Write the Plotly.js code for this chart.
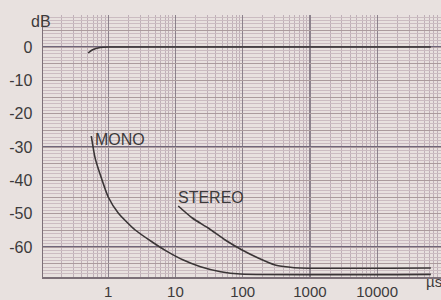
<!DOCTYPE html>
<html><head><meta charset="utf-8">
<script src="https://cdn.plot.ly/plotly-3.0.1.min.js"></script>
<style>html,body{margin:0;padding:0;background:#e8e1df;}#c{width:441px;height:300px;}</style>
</head><body><div id="c"></div>
<script>
// Data (x in µs, y in dB)
const monoX = [0.56, 0.64, 0.81, 1.0, 1.41, 2.52, 4.51, 7.05, 13.1, 23.6, 47, 93, 63000];
const monoY = [-26.7, -33.4, -39.9, -45, -49.8, -54.9, -58.5, -61, -63.9, -65.9, -67.4, -68.1, -68.2];
const stereoX = [11, 17.8, 30.7, 55, 98, 170, 304, 475, 716, 63000];
const stereoY = [-47.7, -51.3, -54.3, -57.9, -60.9, -63.3, -65.4, -66, -66.3, -66.3];
const refX = [0.503, 0.577, 0.76, 1.07, 63000];
const refY = [-1.8, -0.9, -0.15, 0, 0];
const xTickVals = [1, 10, 100, 1000, 10000];
const xTickText = ['1', '10', '100', '1000', '10000'];
const yTickVals = [0, -10, -20, -30, -40, -50, -60];
const yTickText = ['0', '-10', '-20', '-30', '-40', '-50', '-60'];

const lineStyle = {color: '#3a3536', width: 1.6, shape: 'spline', smoothing: 0.6};
const traces = [
  {x: refX, y: refY, mode: 'lines', line: lineStyle, hoverinfo: 'skip'},
  {x: monoX, y: monoY, mode: 'lines', line: lineStyle, hoverinfo: 'skip'},
  {x: stereoX, y: stereoY, mode: 'lines', line: lineStyle, hoverinfo: 'skip'},
  {x: [1], y: [0], yaxis: 'y2', mode: 'none', hoverinfo: 'skip'}
];
const font = {family: 'Liberation Sans, Arial, sans-serif', size: 16, color: '#3c3a3b'};
const xfont = {family: 'Liberation Sans, Arial, sans-serif', size: 15, color: '#3c3a3b'};
const layout = {
  width: 441, height: 300,
  margin: {l: 43, r: 0, t: 15, b: 23},
  paper_bgcolor: '#e8e1df', plot_bgcolor: '#e8e1df',
  showlegend: false, font: font,
  xaxis: {
    type: 'log', range: [-0.97, 4.95],
    tickvals: xTickVals, ticktext: xTickText,
    showgrid: true, gridcolor: '#8c828c', gridwidth: 1.2,
    minor: {dtick: 'D1', showgrid: true, gridcolor: '#bfb0b8', gridwidth: 1},
    showline: true, linecolor: '#7c7078', linewidth: 1.5,
    ticks: '', zeroline: false, tickfont: xfont, ticklabelstandoff: 0
  },
  yaxis: {
    range: [-69, 9.6],
    tickvals: yTickVals, ticktext: yTickText,
    showgrid: true, gridcolor: '#6f667a', gridwidth: 1.4,
    minor: {dtick: 1, showgrid: true, gridcolor: '#cbbcc1', gridwidth: 1},
    showline: true, linecolor: '#7c7078', linewidth: 1.5, mirror: false,
    ticks: '', zeroline: false, tickfont: font, ticklabelstandoff: 6
  },
  yaxis2: {
    overlaying: 'y', range: [-69, 9.6], dtick: 5, tick0: 0,
    showgrid: true, gridcolor: '#ab9b9d', gridwidth: 1,
    showticklabels: false, zeroline: false, layer: 'below traces'
  },
  annotations: [
    {text: 'MONO', x: Math.log10(1.51), y: -27.6, xref: 'x', yref: 'y', showarrow: false, font: font},
    {text: 'STEREO', x: Math.log10(33.3), y: -45, xref: 'x', yref: 'y', showarrow: false, font: font},
    {text: 'dB', x: -0.035, y: 7.8, xref: 'paper', yref: 'y', showarrow: false, font: font},
    {text: 'µs', x: 0.957, y: -0.057, xref: 'paper', yref: 'paper', xanchor: 'left', showarrow: false, font: xfont}
  ]
};
Plotly.newPlot('c', traces, layout, {staticPlot: true, displayModeBar: false});
</script></body></html>
